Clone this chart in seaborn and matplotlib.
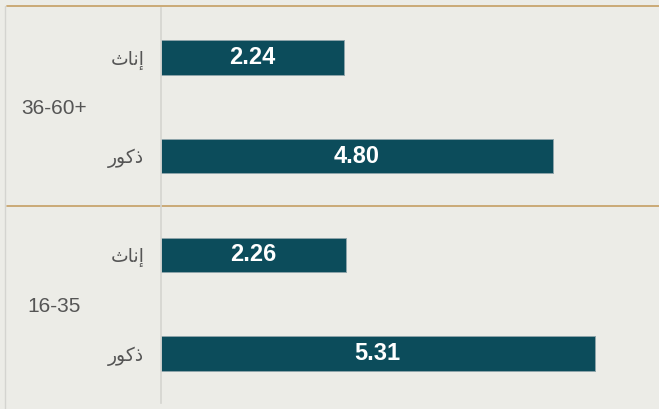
import pandas as pd
import matplotlib.pyplot as plt
import matplotlib.transforms as mtransforms
import seaborn as sns

# data
group_labels = ['36-60+', '16-35']
groups = ['36-60+', '36-60+', '16-35', '16-35']
genders = ['إناث', 'ذكور', 'إناث', 'ذكور']
values = [2.24, 4.80, 2.26, 5.31]

# matplotlib has no arabic shaping, so map to presentation forms (visual order)
shaped = {
    'إناث': '\uFE99\uFE8E\uFEE7\uFE87',
    'ذكور': '\uFEAD\uFEEE\uFEDB\uFEAB',
}

bg = '#ecece7'
bar_color = '#0c4c5b'
gold = '#c8a46e'
line_gray = '#d4d4d0'
text_gray = '#555555'

df = pd.DataFrame({'group': groups, 'gender': genders, 'value': values})
df['row'] = [str(i) for i in range(len(df))]

sns.set_theme(style='white')
plt.rcParams['font.family'] = ['Liberation Sans', 'DejaVu Sans']

fig = plt.figure(figsize=(6.59, 4.09), dpi=100)
fig.patch.set_facecolor(bg)
ax = fig.add_axes([161 / 659, 1 - 403 / 409, (659 - 161) / 659, (403 - 8) / 409])
ax.set_facecolor(bg)

sns.barplot(data=df, x='value', y='row', orient='h', color=bar_color,
            saturation=1, width=0.35, ax=ax, errorbar=None,
            edgecolor='#8da4aa', linewidth=0.7)

ax.set_ylim(3.5, -0.5)
ax.set_xlim(0, 6.1)
ax.xaxis.set_visible(False)
ax.set_ylabel('')
for s in ['top', 'right', 'bottom']:
    ax.spines[s].set_visible(False)
ax.spines['left'].set_color(line_gray)
ax.spines['left'].set_linewidth(1.2)

ax.set_yticks(range(len(genders)))
ax.set_yticklabels([shaped[g] for g in genders], fontsize=13.5, color=text_gray,
                   family=['DejaVu Sans'])
ax.tick_params(axis='y', which='major', length=0, pad=12)
ax.set_yticks([0.5, 1.5, 2.5, 3.5], minor=True)
ax.tick_params(axis='y', which='minor', length=5, color=line_gray, width=1)

ax.bar_label(ax.containers[0], labels=[f'{v:.2f}' for v in values],
             label_type='center', color='white', fontweight='bold', fontsize=17)

# group labels on the far left
trans = mtransforms.blended_transform_factory(fig.transFigure, ax.transData)
for i, g in enumerate(group_labels):
    ax.text(54 / 659, 2 * i + 0.5, g, transform=trans, ha='center',
            va='center_baseline', fontsize=15, color=text_gray, clip_on=False)

# separator lines
ax.plot([7 / 659, 1], [1.5, 1.5], transform=trans, color=gold, lw=1.3, clip_on=False)
ax.plot([7 / 659, 1], [1 - 6 / 409] * 2, transform=fig.transFigure, color=gold,
        lw=1.3, clip_on=False)
ax.plot([5 / 659, 5 / 659], [0, 1 - 6 / 409], transform=fig.transFigure,
        color=line_gray, lw=1, clip_on=False)

fig.savefig('out.png', dpi=100, facecolor=bg)
